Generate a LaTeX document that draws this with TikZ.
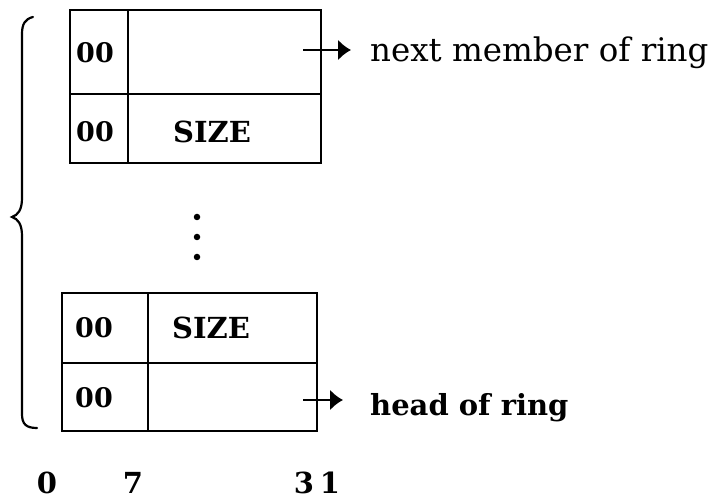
\documentclass[tikz,border=0pt]{standalone}
\usepackage{fontspec}
\setmainfont{DejaVu Serif}
\usetikzlibrary{arrows.meta}
\begin{document}
\begin{tikzpicture}[x=1pt,y=-1pt,
  cell/.style={draw, line width=2.2pt, anchor=north west, inner sep=0pt, outer sep=0pt},
  field/.style={inner sep=0pt, font=\fontsize{27}{27}\selectfont\bfseries},
  big/.style={font=\fontsize{29}{29}\selectfont\bfseries},
  label/.style={inner sep=0pt, anchor=base west, font=\fontsize{32.5}{36}\selectfont},
  ptr/.style={line width=2.2pt, -{Latex[length=13pt,width=21pt]}},
  dot/.style={circle, fill, inner sep=0pt, minimum size=6.5pt}]
\useasboundingbox (0,0) rectangle (720,502);

% first word of the ring
\node[cell, minimum width=58pt,  minimum height=84pt] (t1a) at (70,10) {};
\node[cell, minimum width=193pt, minimum height=84pt] (t1b) at (128,10) {};
\node[cell, minimum width=58pt,  minimum height=69pt] (t2a) at (70,94) {};
\node[cell, minimum width=193pt, minimum height=69pt] (t2b) at (128,94) {};
\node[field] (t1f) at (95,53) {00};
\node[field] (t2f) at (95,132) {00};
\node[field, big] (t2s) at (212,132) {SIZE};

% continuation dots
\node[dot] (d1) at (197,217) {};
\node[dot] (d2) at (197,237) {};
\node[dot] (d3) at (197,257) {};

% last word of the ring
\node[cell, minimum width=86pt,  minimum height=70pt] (b1a) at (62,293) {};
\node[cell, minimum width=169pt, minimum height=70pt] (b1b) at (148,293) {};
\node[cell, minimum width=86pt,  minimum height=68pt] (b2a) at (62,363) {};
\node[cell, minimum width=169pt, minimum height=68pt] (b2b) at (148,363) {};
\node[field] (b1f) at (94,328) {00};
\node[field, big] (b1s) at (211,328) {SIZE};
\node[field] (b2f) at (94,398) {00};

% pointers
\node[label] (nextlbl) at (370,62) {next member of ring};
\node[label, font=\fontsize{29}{34}\selectfont\bfseries] (headlbl) at (370,415) {head of ring};
\coordinate (p1) at (303,50);
\coordinate (p1e) at (351,50);
\coordinate (p2) at (303,400);
\coordinate (p2e) at (343,400);
\draw[ptr] (p1) -- (p1e);
\draw[ptr] (p2) -- (p2e);

% brace spanning the ring
\draw[line width=2.2pt, line cap=round]
  (33,17) .. controls (25,19) and (22,24) .. (22,34) -- (22,198)
  .. controls (22,210) and (18,215) .. (12,217)
  .. controls (18,219) and (22,224) .. (22,236) -- (22,414)
  .. controls (22,424) and (26,428) .. (37,428);

% bit positions
\node[field, big] (bit0) at (47,483) {0};
\node[field, big] (bit7) at (133,483) {7};
\node[field, big] (bit3) at (304,483) {3};
\node[field, big] (bit1) at (330,483) {1};
\end{tikzpicture}
\end{document}
